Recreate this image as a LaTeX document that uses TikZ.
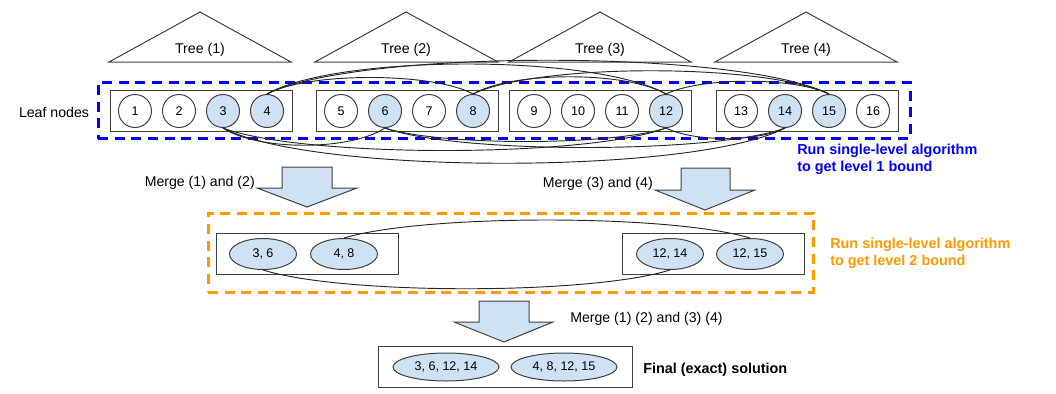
\documentclass[tikz,border=0pt]{standalone}
\usepackage{fontspec}
\setmainfont{Liberation Sans}
\usetikzlibrary{shapes.geometric}
\definecolor{selblue}{HTML}{CFE2F3}
\definecolor{lvlblue}{RGB}{0,0,255}
\definecolor{lvlorange}{RGB}{255,153,0}
\definecolor{edgegray}{HTML}{404040}
\begin{document}
\begin{tikzpicture}[x=0.75pt,y=-0.75pt,
  lbl/.style={inner sep=0pt, font=\fontsize{10.6}{12}\selectfont},
  note/.style={inner sep=0pt, align=left, font=\fontsize{10.8}{13}\selectfont\bfseries},
  leaf/.style={circle, draw=edgegray, line width=0.75pt, minimum size=24.75pt, inner sep=0pt, font=\fontsize{9.4}{10}\selectfont},
  sel/.style={leaf, fill=selblue},
  grp/.style={ellipse, draw=edgegray, line width=0.75pt, fill=selblue, inner sep=0pt, font=\fontsize{9.4}{10}\selectfont},
  grpsmall/.style={grp, minimum width=50.25pt, minimum height=23.25pt},
  grpbig/.style={grp, minimum width=79.5pt, minimum height=21pt},
  box/.style={rectangle, draw=edgegray, line width=0.75pt, inner sep=0pt, minimum width=136.5pt, minimum height=30.75pt},
  tri/.style={draw=edgegray, line width=0.75pt},
  link/.style={draw=black!85, line width=0.7pt},
  level/.style={rectangle, dashed, line width=2.25pt, dash pattern=on 7.5pt off 5pt, inner sep=0pt},
  blockarrow/.style={draw=edgegray, line width=0.75pt, fill=selblue}
]
\useasboundingbox (0,0) rectangle (1056,393);

% trees
\foreach \cx/\lab/\l/\r in {200/1/109/291, 406/2/315/498, 600/3/509/691, 806/4/715/897}{
  \draw[tri] (\l,62) -- (\cx,12) -- (\r,62) -- cycle;
  \node[lbl] (tree\lab) at (\cx,50) {Tree (\lab)};
}

% level-1 dashed frame
\node[level, draw=lvlblue, minimum width=609pt, minimum height=42.375pt] (lvlone) at (504,110.25) {};

% leaf boxes
\node[box] (boxA) at (201,111) {};
\node[box] (boxB) at (407,111) {};
\node[box] (boxC) at (600.5,111) {};
\node[box] (boxD) at (807,111) {};

\node[lbl] (leaflabel) at (54,112) {Leaf nodes};

% leaves
\node[leaf] (n1) at (135,111) {1};
\node[leaf] (n2) at (179,111) {2};
\node[sel]  (n3) at (223,111) {3};
\node[sel]  (n4) at (267,111) {4};
\node[leaf] (n5) at (341,111) {5};
\node[sel]  (n6) at (385,111) {6};
\node[leaf] (n7) at (429,111) {7};
\node[sel]  (n8) at (473,111) {8};
\node[leaf] (n9) at (534,111) {9};
\node[leaf] (n10) at (578,111) {10};
\node[leaf] (n11) at (622,111) {11};
\node[sel]  (n12) at (666,111) {12};
\node[leaf] (n13) at (741,111) {13};
\node[sel]  (n14) at (785,111) {14};
\node[sel]  (n15) at (829,111) {15};
\node[leaf] (n16) at (873,111) {16};

% upper connectors
\draw[link] (n4.north) .. controls +(40,-22) and +(-40,-22) .. (n8.north);
\draw[link] (n4.north) .. controls +(70,-40) and +(-70,-40) .. (n12.north);
\draw[link] (n4.north) .. controls +(90,-45) and +(-90,-45) .. (n15.north);
\draw[link] (n8.north) .. controls +(40,-23) and +(-40,-23) .. (n12.north);
\draw[link] (n8.north) .. controls +(65,-31) and +(-65,-31) .. (n15.north);
\draw[link] (n12.north) .. controls +(35,-17) and +(-35,-17) .. (n15.north);

% lower connectors
\draw[link] (n3.south) .. controls +(35,23) and +(-35,23) .. (n6.south);
\draw[link] (n3.south) .. controls +(80,30) and +(-80,30) .. (n12.south);
\draw[link] (n3.south) .. controls +(90,47) and +(-90,47) .. (n14.south);
\draw[link] (n6.south) .. controls +(55,18) and +(-55,18) .. (n12.south);
\draw[link] (n6.south) .. controls +(70,26) and +(-70,26) .. (n14.south);
\draw[link] (n12.south) .. controls +(28,14) and +(-28,14) .. (n14.south);

\node[note, text=lvlblue, anchor=west] (noteone) at (797,159.5) {Run single-level algorithm\\to get level 1 bound};

% merge arrows level 1 -> 2
\draw[blockarrow] (282,167) -- (332,167) -- (332,188) -- (357,188) -- (307,207) -- (257,188) -- (282,188) -- cycle;
\node[lbl, anchor=east] (mergeA) at (255,183) {Merge (1) and (2)};
\draw[blockarrow] (681,168) -- (730,168) -- (730,190) -- (755,190) -- (705,210) -- (655,190) -- (681,190) -- cycle;
\node[lbl, anchor=east] (mergeB) at (653,184) {Merge (3) and (4)};

% level-2 dashed frame
\node[level, draw=lvlorange, minimum width=453.75pt, minimum height=59.25pt] (lvltwo) at (510.5,252.5) {};

\node[box] (boxAB) at (307,253.5) {};
\node[box] (boxCD) at (713,253.5) {};
\node[grpsmall] (g36) at (263,254) {3, 6};
\node[grpsmall] (g48) at (344,254) {4, 8};
\node[grpsmall] (g1214) at (670,254) {12, 14};
\node[grpsmall] (g1215) at (750,254) {12, 15};

\draw[link] (g48.north) .. controls +(80,-24) and +(-80,-24) .. (g1215.north);
\draw[link] (g36.south) .. controls +(80,25) and +(-80,25) .. (g1214.south);

\node[note, text=lvlorange, anchor=west] (notetwo) at (830,253) {Run single-level algorithm\\to get level 2 bound};

% final merge
\draw[blockarrow] (479,301) -- (529,301) -- (529,322) -- (553,322) -- (504,342) -- (454,322) -- (479,322) -- cycle;
\node[lbl, anchor=west] (mergeC) at (570,319) {Merge (1) (2) and (3) (4)};

\node[box, minimum width=190.5pt] (boxfinal) at (505,366.5) {};
\node[grpbig] (gA) at (446,367) {3, 6, 12, 14};
\node[grpbig] (gB) at (564,367) {4, 8, 12, 15};
\node[note, anchor=west] (final) at (643,370) {Final (exact) solution};
\end{tikzpicture}
\end{document}
